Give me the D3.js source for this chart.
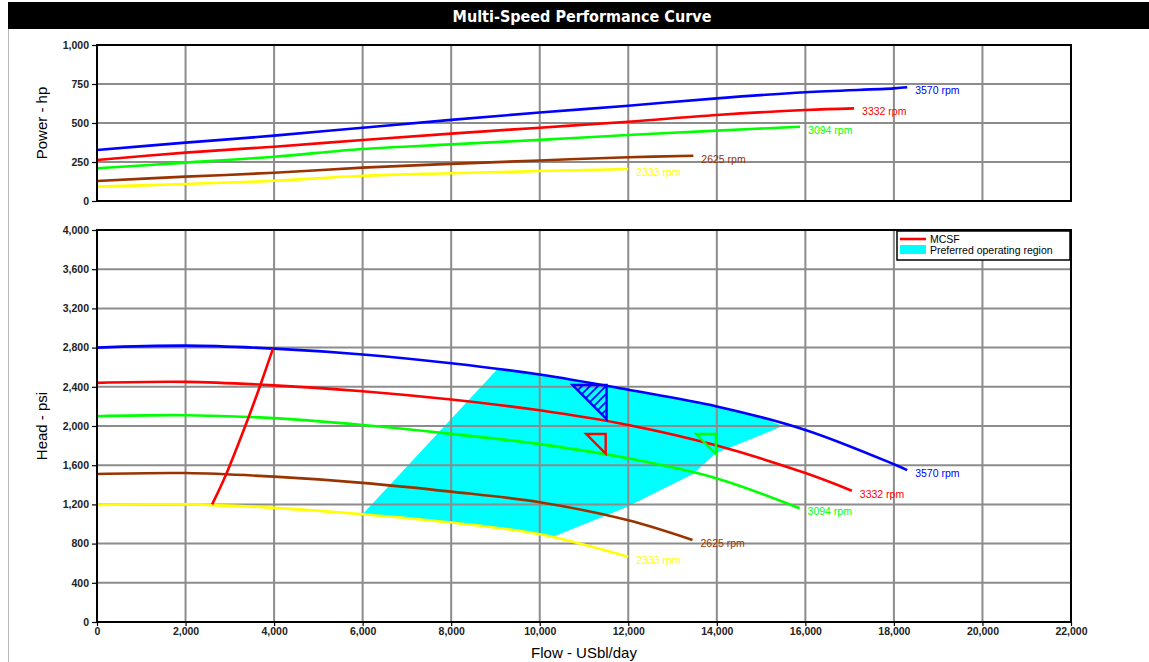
<!DOCTYPE html>
<html>
<head>
<meta charset="utf-8">
<script src="https://cdn.jsdelivr.net/npm/d3@7"></script>
<style>
  html, body { margin: 0; padding: 0; background: #fff; }
  svg { display: block; font-family: "Liberation Sans", Arial, sans-serif; }
</style>
</head>
<body>
<svg id="chart" width="1149" height="662"></svg>
<script>
// ---- Data -------------------------------------------------------------
const flowTicks = [0, 2000, 4000, 6000, 8000, 10000, 12000, 14000, 16000, 18000, 20000, 22000];
const powerTicks = [0, 250, 500, 750, 1000];
const headTicks = [0, 400, 800, 1200, 1600, 2000, 2400, 2800, 3200, 3600, 4000];

const speeds = ["3570 rpm", "3332 rpm", "3094 rpm", "2625 rpm", "2333 rpm"];
const speedColors = ["#0000ff", "#ff0000", "#00ff00", "#993300", "#ffff00"];

// Power (hp) vs flow (USbl/day), one array per speed: [flow, hp]
const power3570 = [[0, 327], [2000, 374], [4000, 419], [6000, 470], [8000, 520], [10000, 567], [12000, 611], [14000, 658], [16000, 697], [18000, 722], [18300, 729]];
const power3332 = [[0, 263], [2000, 310], [4000, 348], [6000, 391], [8000, 432], [10000, 470], [12000, 508], [14000, 551], [16000, 583], [17100, 594]];
const power3094 = [[0, 210], [2000, 246], [4000, 284], [6000, 333], [8000, 363], [10000, 392], [12000, 423], [14000, 451], [15880, 476]];
const power2625 = [[0, 128], [2000, 156], [4000, 181], [6000, 214], [8000, 238], [10000, 260], [12000, 280], [13470, 290]];
const power2333 = [[0, 92], [2000, 109], [4000, 130], [6000, 162], [8000, 178], [10000, 192], [12000, 205]];

// Head (psi) vs flow, one array per speed: [flow, psi]
const head3570 = [[0, 2800], [2000, 2820], [4000, 2790], [6000, 2730], [8000, 2640], [10000, 2525], [12000, 2370], [14000, 2200], [16000, 1960], [18000, 1610], [18300, 1550]];
const head3332 = [[0, 2440], [2000, 2450], [4000, 2415], [6000, 2355], [8000, 2270], [10000, 2160], [12000, 2010], [14000, 1800], [16000, 1520], [17050, 1340]];
const head3094 = [[0, 2100], [2000, 2110], [4000, 2080], [6000, 2010], [8000, 1920], [10000, 1815], [12000, 1670], [14000, 1465], [15870, 1160]];
const head2625 = [[0, 1510], [2000, 1520], [4000, 1483], [6000, 1420], [8000, 1330], [10000, 1222], [12000, 1038], [13450, 837]];
const head2333 = [[0, 1195], [2000, 1200], [4000, 1165], [6000, 1100], [8000, 1015], [10000, 895], [12000, 665]];

// Minimum continuous stable flow line across the speeds
const mcsf = [[2600, 1200], [2900, 1490], [3420, 2085], [3690, 2418], [3975, 2790]];

// Preferred operating region boundary
const regionBoundary = [[6000, 1100], [9030, 2575], [10000, 2525], [11000, 2450], [12000, 2370], [13000, 2290], [14000, 2200], [15000, 2085], [15490, 2000],
  [13980, 1721], [13460, 1510], [11950, 1170], [10300, 870], [10000, 895], [8000, 1015], [6000, 1100]];

// Best-efficiency markers (triangles)
const markerBlue = [[10740, 2418], [11510, 2418], [11510, 2070]];
const markerRed = [[11050, 1918], [11490, 1918], [11490, 1718]];
const markerGreen = [[13530, 1918], [13980, 1918], [13980, 1714]];

const powerSeries = [power3570, power3332, power3094, power2625, power2333];
const headSeries = [head3570, head3332, head3094, head2625, head2333];

// ---- Layout -----------------------------------------------------------
const svg = d3.select("#chart");
const x = d3.scaleLinear().domain([0, 22000]).range([97, 1071]);
const yTop = d3.scaleLinear().domain([0, 1000]).range([201, 45]);
const yBot = d3.scaleLinear().domain([0, 4000]).range([622, 230]);

// page frame and title bar
svg.append("rect").attr("x", 8).attr("y", 2).attr("width", 1141).attr("height", 27).attr("fill", "#000");
svg.append("line").attr("x1", 8.5).attr("x2", 8.5).attr("y1", 29).attr("y2", 662).attr("stroke", "#bbb").attr("stroke-width", 1);
svg.append("text").attr("x", 582).attr("y", 21.5).attr("text-anchor", "middle")
  .attr("fill", "#fff").attr("font-family", "'DejaVu Sans Condensed', 'DejaVu Sans', sans-serif")
  .attr("font-weight", "bold").attr("font-size", 16).text("Multi-Speed Performance Curve");

const defs = svg.append("defs");
const hatch = defs.append("pattern").attr("id", "hatchBlue").attr("patternUnits", "userSpaceOnUse")
  .attr("width", 8).attr("height", 8);
hatch.append("path").attr("d", "M0,8 L8,0 M-2,2 L2,-2 M6,10 L10,6").attr("stroke", "#0000ff").attr("stroke-width", 1.6);

function grid(g, yScale, ticks) {
  const [yb, yt] = yScale.range();
  g.selectAll(".vg").data(flowTicks.slice(1, -1)).join("line")
    .attr("x1", d => x(d)).attr("x2", d => x(d)).attr("y1", yt).attr("y2", yb)
    .attr("stroke", "#8c8c8c").attr("stroke-width", 2);
  g.selectAll(".hg").data(ticks.slice(1, -1)).join("line")
    .attr("x1", x(0)).attr("x2", x(22000)).attr("y1", d => yScale(d)).attr("y2", d => yScale(d))
    .attr("stroke", "#8c8c8c").attr("stroke-width", 2);
}

function frame(g, yScale) {
  const [yb, yt] = yScale.range();
  g.append("rect").attr("x", x(0)).attr("y", yt).attr("width", x(22000) - x(0)).attr("height", yb - yt)
    .attr("fill", "none").attr("stroke", "#000").attr("stroke-width", 2);
}

function yAxis(g, yScale, ticks) {
  const ax = g.append("g").attr("transform", `translate(${x(0)},0)`)
    .call(d3.axisLeft(yScale).tickValues(ticks).tickSize(5).tickPadding(3).tickFormat(d3.format(",")));
  ax.select(".domain").remove();
  ax.selectAll("line").attr("stroke", "#000").attr("stroke-width", 1.2);
  ax.selectAll("text").attr("font-size", 10.5).attr("font-weight", "bold").attr("fill", "#222")
    .attr("font-family", "'Liberation Sans', Arial, sans-serif");
}

const smooth = d3.curveCatmullRom.alpha(0.5);
const lineTop = d3.line().x(d => x(d[0])).y(d => yTop(d[1])).curve(smooth);
const lineBot = d3.line().x(d => x(d[0])).y(d => yBot(d[1])).curve(smooth);

function curveLabels(g, series, yScale) {
  series.forEach((s, i) => {
    const last = s[s.length - 1];
    g.append("text").attr("x", x(last[0]) + 8).attr("y", yScale(last[1]) + 7)
      .attr("font-size", 10.5).attr("fill", speedColors[i]).text(speeds[i]);
  });
}

// ---- Power panel ------------------------------------------------------
const gTop = svg.append("g");
grid(gTop, yTop, powerTicks);
powerSeries.forEach((s, i) => {
  gTop.append("path").attr("d", lineTop(s)).attr("fill", "none")
    .attr("stroke", speedColors[i]).attr("stroke-width", 2.6);
});
frame(gTop, yTop);
yAxis(gTop, yTop, powerTicks);
curveLabels(gTop, powerSeries, yTop);
svg.append("text").attr("transform", `translate(47,${yTop(500)}) rotate(-90)`).attr("text-anchor", "middle")
  .attr("font-size", 15).attr("fill", "#000").text("Power - hp");

// ---- Head panel -------------------------------------------------------
const gBot = svg.append("g");
gBot.append("path").attr("d", d3.line().x(d => x(d[0])).y(d => yBot(d[1]))(regionBoundary) + "Z")
  .attr("fill", "#00ffff").attr("stroke", "none");
grid(gBot, yBot, headTicks);
headSeries.forEach((s, i) => {
  gBot.append("path").attr("d", lineBot(s)).attr("fill", "none")
    .attr("stroke", speedColors[i]).attr("stroke-width", 2.6);
});

const tri = d3.line().x(d => x(d[0])).y(d => yBot(d[1]));
gBot.append("path").attr("d", tri(markerBlue) + "Z").attr("fill", "url(#hatchBlue)")
  .attr("stroke", "#0000ff").attr("stroke-width", 2.4).attr("stroke-linejoin", "miter");
gBot.append("path").attr("d", tri(markerRed) + "Z").attr("fill", "none")
  .attr("stroke", "#ff0000").attr("stroke-width", 2.4);
gBot.append("path").attr("d", tri(markerGreen) + "Z").attr("fill", "none")
  .attr("stroke", "#00ff00").attr("stroke-width", 2.4);

gBot.append("path").attr("d", d3.line().x(d => x(d[0])).y(d => yBot(d[1])).curve(smooth)(mcsf))
  .attr("fill", "none").attr("stroke", "#ff0000").attr("stroke-width", 2.6);

frame(gBot, yBot);
yAxis(gBot, yBot, headTicks);
curveLabels(gBot, headSeries, yBot);

const xAx = gBot.append("g").attr("transform", `translate(0,${yBot(0)})`)
  .call(d3.axisBottom(x).tickValues(flowTicks).tickSize(4).tickPadding(2).tickFormat(d3.format(",")));
xAx.select(".domain").remove();
xAx.selectAll("line").attr("stroke", "#000").attr("stroke-width", 1.2);
xAx.selectAll("text").attr("font-size", 10.5).attr("font-weight", "bold").attr("fill", "#222")
  .attr("font-family", "'Liberation Sans', Arial, sans-serif");

svg.append("text").attr("transform", `translate(47,${yBot(2000)}) rotate(-90)`).attr("text-anchor", "middle")
  .attr("font-size", 15).attr("fill", "#000").text("Head - psi");
svg.append("text").attr("x", 584).attr("y", 658).attr("text-anchor", "middle")
  .attr("font-size", 15).attr("fill", "#000").text("Flow - USbl/day");

// ---- Legend -----------------------------------------------------------
const lg = svg.append("g");
lg.append("rect").attr("x", 897).attr("y", 231).attr("width", 173).attr("height", 29)
  .attr("fill", "#fff").attr("stroke", "#000").attr("stroke-width", 1.5);
lg.append("line").attr("x1", 900).attr("x2", 926).attr("y1", 239).attr("y2", 239)
  .attr("stroke", "#ff0000").attr("stroke-width", 2.6);
lg.append("rect").attr("x", 900).attr("y", 245).attr("width", 26).attr("height", 9).attr("fill", "#00ffff");
lg.append("text").attr("x", 930).attr("y", 243).attr("font-size", 10.5).attr("fill", "#000").text("MCSF");
lg.append("text").attr("x", 930).attr("y", 254).attr("font-size", 10.5).attr("fill", "#000").text("Preferred operating region");
</script>
</body>
</html>
